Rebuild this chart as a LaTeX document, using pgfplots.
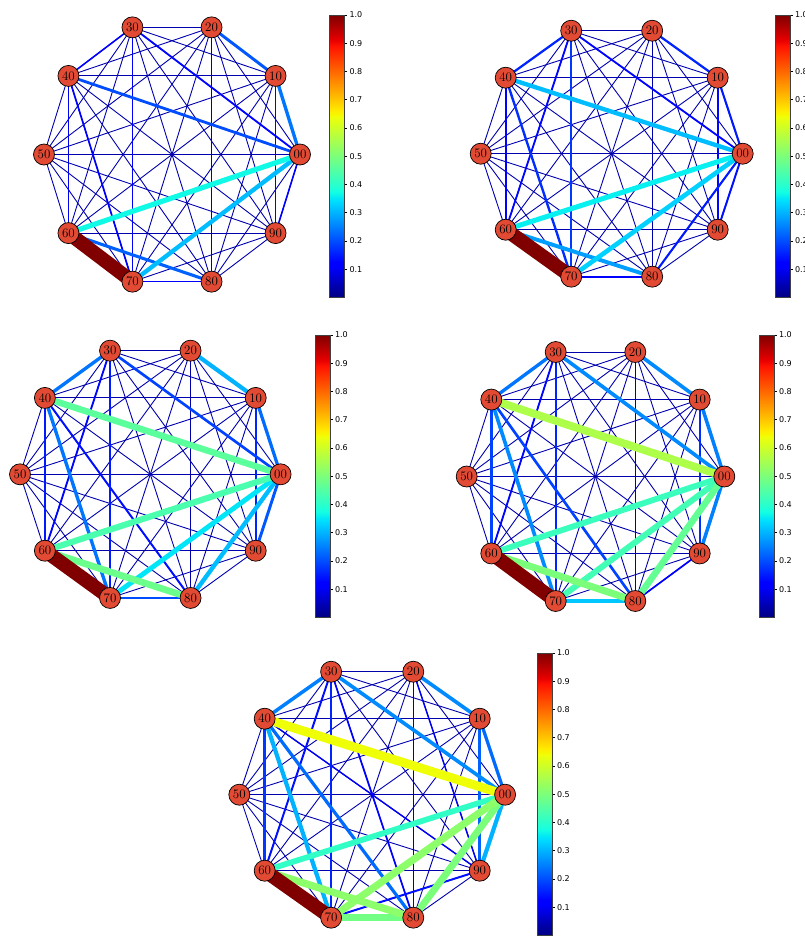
\documentclass[border=0pt]{standalone}
\usepackage{fontspec}
\usepackage{pgfplots}
\pgfplotsset{compat=1.18}
\newfontfamily\cbfont{DejaVu Sans}
\definecolor{nodecol}{RGB}{226,74,51}
\pgfplotsset{colormap={mpljet}{rgb(0pt)=(0,0,0.5) rgb(22pt)=(0,0,1) rgb(25pt)=(0,0,1) rgb(68pt)=(0,0.86,1) rgb(70pt)=(0,0.9,0.968) rgb(75pt)=(0.081,1,0.887) rgb(128pt)=(0.935,1,0.032) rgb(130pt)=(0.968,0.963,0) rgb(132pt)=(1,0.926,0) rgb(178pt)=(1,0.074,0) rgb(182pt)=(0.909,0,0) rgb(200pt)=(0.5,0,0)}}
% node positions (circular layout)
\expandafter\def\csname nxx0\endcsname{1}\expandafter\def\csname nyy0\endcsname{0}
\expandafter\def\csname nxx1\endcsname{0.809017}\expandafter\def\csname nyy1\endcsname{0.587785}
\expandafter\def\csname nxx2\endcsname{0.309017}\expandafter\def\csname nyy2\endcsname{0.951057}
\expandafter\def\csname nxx3\endcsname{-0.309017}\expandafter\def\csname nyy3\endcsname{0.951057}
\expandafter\def\csname nxx4\endcsname{-0.809017}\expandafter\def\csname nyy4\endcsname{0.587785}
\expandafter\def\csname nxx5\endcsname{-1}\expandafter\def\csname nyy5\endcsname{0}
\expandafter\def\csname nxx6\endcsname{-0.809017}\expandafter\def\csname nyy6\endcsname{-0.587785}
\expandafter\def\csname nxx7\endcsname{-0.309017}\expandafter\def\csname nyy7\endcsname{-0.951057}
\expandafter\def\csname nxx8\endcsname{0.309017}\expandafter\def\csname nyy8\endcsname{-0.951057}
\expandafter\def\csname nxx9\endcsname{0.809017}\expandafter\def\csname nyy9\endcsname{-0.587785}
\def\nx#1{\csname nxx#1\endcsname}
\def\ny#1{\csname nyy#1\endcsname}
% edge: node i, node j, weight (colour taken from the colormap at the weight)
\newcommand\E[3]{\addplot[/utils/exec={\pgfmathparse{#3*1000}\pgfplotscolormapdefinemappedcolor{\pgfmathresult}}, draw=mapped color, line width={max(14*#3,0.9)*1pt}, line cap=butt] coordinates {(\nx#1,\ny#1) (\nx#2,\ny#2)};}
\newcommand\AllThin{%
\E01{0.04}\E02{0.04}\E03{0.04}\E04{0.04}\E05{0.04}\E06{0.04}\E07{0.04}\E08{0.04}\E09{0.04}%
\E12{0.04}\E13{0.04}\E14{0.04}\E15{0.04}\E16{0.04}\E17{0.04}\E18{0.04}\E19{0.04}%
\E23{0.04}\E24{0.04}\E25{0.04}\E26{0.04}\E27{0.04}\E28{0.04}\E29{0.04}%
\E34{0.04}\E35{0.04}\E36{0.04}\E37{0.04}\E38{0.04}\E39{0.04}%
\E45{0.04}\E46{0.04}\E47{0.04}\E48{0.04}\E49{0.04}%
\E56{0.04}\E57{0.04}\E58{0.04}\E59{0.04}%
\E67{0.04}\E68{0.04}\E69{0.04}%
\E78{0.04}\E79{0.04}%
\E89{0.04}}
\newcommand\Nodes{\addplot[only marks, mark=*, mark size=10.5pt, mark options={fill=nodecol, draw=black, line width=0.7pt}, point meta=explicit symbolic, nodes near coords, nodes near coords align=center, nodes near coords style={font=\fontsize{13}{13}\selectfont, text=black, inner sep=0pt}] coordinates {
(1,0) [00] (0.809017,0.587785) [10] (0.309017,0.951057) [20] (-0.309017,0.951057) [30] (-0.809017,0.587785) [40]
(-1,0) [50] (-0.809017,-0.587785) [60] (-0.309017,-0.951057) [70] (0.309017,-0.951057) [80] (0.809017,-0.587785) [90]};}
\pgfplotsset{netaxis/.style={scale only axis, hide axis, xmin=-1, xmax=1, ymin=-1, ymax=1, clip=false, anchor=center,
  colormap name=mpljet, point meta min=0, point meta max=1, colorbar,
  colorbar style={at={(parent axis.center)}, anchor=north west, scale only axis, width=15pt, height=282.5pt,
    ytick={0.1,0.2,0.3,0.4,0.5,0.6,0.7,0.8,0.9,1.0}, ytick pos=right, yticklabel pos=right, tick align=outside, major tick length=2.5pt,
    tick style={black, line width=0.6pt}, axis line style={draw=black!75, line width=0.7pt},
    yticklabel style={font=\cbfont\fontsize{8}{9}\selectfont, xshift=-1pt},
    /pgf/number format/fixed, /pgf/number format/fixed zerofill, /pgf/number format/precision=1, /pgf/number format/assume math mode=true}},
  cbpos/.style 2 args={colorbar style={xshift=#1pt, yshift=#2pt}}}
\begin{document}
\begin{tikzpicture}
\useasboundingbox (0,0) rectangle (805pt,-938pt);
% Panel 1
\begin{axis}[netaxis, at={(172pt,-154.5pt)}, width=256pt, height=267.4pt, cbpos={149}{139.5}]
\AllThin
\E19{0.1}\E46{0.1}\E34{0.11}\E78{0.11}\E09{0.11}\E37{0.12}\E47{0.12}\E30{0.13}
\E40{0.2}\E21{0.21}\E68{0.22}\E10{0.24}\E70{0.31}\E60{0.37}\E67{1.0}
\Nodes
\end{axis}
% Panel 2
\begin{axis}[netaxis, at={(611.7pt,-153.7pt)}, width=262pt, height=258.6pt, cbpos={154.8}{138.7}]
\AllThin
\E46{0.12}\E78{0.12}\E19{0.13}\E30{0.13}\E36{0.13}\E09{0.14}\E08{0.15}\E10{0.15}\E34{0.16}\E21{0.16}
\E47{0.17}\E37{0.18}\E68{0.28}\E40{0.31}\E70{0.33}\E60{0.36}\E67{1.0}
\Nodes
\end{axis}
% Panel 3
\begin{axis}[netaxis, at={(150.3pt,-474.3pt)}, width=260.6pt, height=260pt, cbpos={156.2}{139.3}]
\AllThin
\E36{0.13}\E48{0.14}\E46{0.15}\E37{0.15}\E19{0.16}\E30{0.19}\E78{0.2}\E09{0.21}\E10{0.23}
\E34{0.24}\E47{0.24}\E21{0.3}\E80{0.31}\E70{0.35}\E60{0.44}\E40{0.46}\E68{0.48}\E67{1.0}
\Nodes
\end{axis}
% Panel 4
\begin{axis}[netaxis, at={(595.5pt,-476.5pt)}, width=257.6pt, height=261.8pt, cbpos={155}{141.5}]
\AllThin
\E89{0.12}\E36{0.13}\E37{0.16}\E19{0.17}\E48{0.19}\E46{0.19}\E34{0.24}\E10{0.25}\E09{0.25}
\E30{0.26}\E21{0.26}\E47{0.26}\E78{0.32}\E60{0.42}\E70{0.43}\E80{0.47}\E68{0.5}\E40{0.56}\E67{1.0}
\Nodes
\end{axis}
% Panel 5
\begin{axis}[netaxis, at={(372.2pt,-794.7pt)}, width=265.8pt, height=258.6pt, cbpos={156.3}{141.7}]
\AllThin
\E49{0.1}\E29{0.1}\E38{0.12}\E36{0.14}\E79{0.14}\E37{0.16}\E46{0.18}\E19{0.22}\E10{0.23}\E48{0.23}
\E34{0.25}\E30{0.26}\E21{0.26}\E47{0.3}\E09{0.3}\E60{0.41}\E78{0.49}\E80{0.5}\E70{0.52}\E68{0.52}\E40{0.64}\E67{1.0}
\Nodes
\end{axis}
\end{tikzpicture}
\end{document}
